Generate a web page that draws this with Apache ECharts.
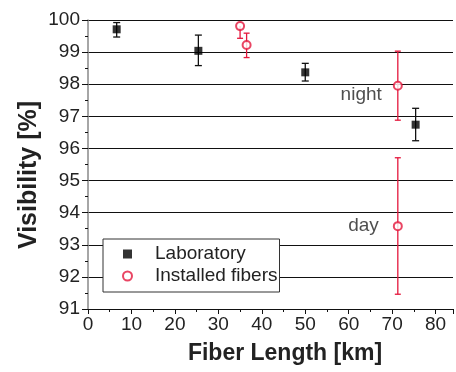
<!DOCTYPE html>
<html>
<head>
<meta charset="utf-8">
<script src="https://cdn.jsdelivr.net/npm/echarts@6/dist/echarts.min.js"></script>
<style>html,body{margin:0;padding:0;background:#fff}#c{width:456px;height:372px}</style>
</head>
<body>
<div id="c"></div>
<script>
// ---- data ----
const labX  = [6.6, 25.4, 50.0, 75.4];
const labY  = [99.71, 99.04, 98.37, 96.74];
const labLo = [99.47, 98.58, 98.10, 96.24];
const labHi = [99.92, 99.53, 98.65, 97.25];

const instX  = [35.0, 36.5, 71.3, 71.3];
const instY  = [99.81, 99.22, 97.95, 93.58];
const instLo = [99.43, 98.83, 96.88, 91.46];
const instHi = [99.81, 99.59, 99.03, 95.71];
const instNotes = ['', '', 'night', 'day'];

const xTicks = [0, 10, 20, 30, 40, 50, 60, 70, 80];
const yTicks = [91, 92, 93, 94, 95, 96, 97, 98, 99, 100];

const RED = '#e4173c';
const TXT = '#222';
const FONT = '"Liberation Sans", Arial, sans-serif';

function errRender(color, capW) {
  return function (params, api) {
    const x = api.value(0), lo = api.value(1), hi = api.value(2), y = api.value(3);
    const pLo = api.coord([x, lo]), pHi = api.coord([x, hi]);
    const st = { stroke: color, lineWidth: 1.3 };
    const ch = [
      { type: 'line', shape: { x1: pLo[0], y1: pLo[1], x2: pHi[0], y2: pHi[1] }, style: st },
      { type: 'line', shape: { x1: pLo[0] - capW / 2, y1: pLo[1], x2: pLo[0] + capW / 2, y2: pLo[1] }, style: st }
    ];
    if (hi > y) ch.push({ type: 'line', shape: { x1: pHi[0] - capW / 2, y1: pHi[1], x2: pHi[0] + capW / 2, y2: pHi[1] }, style: st });
    return { type: 'group', children: ch };
  };
}

const chart = echarts.init(document.getElementById('c'), null, { renderer: 'canvas' });
chart.setOption({
  animation: false,
  backgroundColor: '#fff',
  textStyle: { fontFamily: FONT },
  grid: { left: 88, top: 20, right: 0, bottom: 63, containLabel: false },
  xAxis: {
    type: 'value', min: 0, max: 84, interval: 10,
    axisLine: { show: true, onZero: false, lineStyle: { color: '#111', width: 1 } },
    axisTick: { show: true, inside: false, length: 5, lineStyle: { color: '#111' } },
    minorTick: { show: true, splitNumber: 2, length: 3, lineStyle: { color: '#111' } },
    splitLine: { show: false },
    axisLabel: {
      margin: 6, fontSize: 19, color: TXT, fontFamily: FONT,
      formatter: v => (xTicks.indexOf(v) >= 0 ? String(v) : '')
    }
  },
  yAxis: {
    type: 'value', min: 91, max: 100, interval: 1,
    axisLine: { show: true, onZero: false, lineStyle: { color: '#888', width: 1.5 } },
    axisTick: { show: true, inside: false, length: 6, lineStyle: { color: '#111' } },
    minorTick: { show: true, splitNumber: 2, length: 3, lineStyle: { color: '#111' } },
    splitLine: { show: true, lineStyle: { color: '#111', width: 1 } },
    axisLabel: {
      margin: 8, fontSize: 19, color: TXT, fontFamily: FONT,
      formatter: v => (yTicks.indexOf(v) >= 0 ? String(v) : '')
    }
  },
  legend: {
    orient: 'vertical', left: 103, top: 239,
    padding: [5, 2, 6, 19], itemGap: 2,
    itemWidth: 9, itemHeight: 9,
    borderColor: '#333', borderWidth: 1, backgroundColor: '#fff',
    textStyle: { fontSize: 19, color: TXT, fontFamily: FONT, lineHeight: 20, padding: [0, 0, 0, 18] },
    data: [
      { name: 'Laboratory', icon: 'rect' },
      { name: 'Installed fibers', icon: 'circle' }
    ]
  },
  graphic: [
    { type: 'text', x: 285, y: 354, style: { text: 'Fiber Length [km]', font: 'bold 23px ' + FONT, fill: TXT, textAlign: 'center', textVerticalAlign: 'middle' } },
    { type: 'text', x: 29, y: 175, rotation: Math.PI / 2, style: { text: 'Visibility [%]', font: 'bold 25px ' + FONT, fill: TXT, textAlign: 'center', textVerticalAlign: 'middle' } }
  ],
  series: [
    {
      type: 'custom', name: 'labErr', renderItem: errRender('#111', 7), z: 2,
      data: labX.map((x, i) => [x, labLo[i], labHi[i], labY[i]]),
      encode: { x: 0, y: [1, 2] }
    },
    {
      type: 'custom', name: 'instErr', renderItem: errRender(RED, 6), z: 2,
      data: instX.map((x, i) => [x, instLo[i], instHi[i], instY[i]]),
      encode: { x: 0, y: [1, 2] }
    },
    {
      type: 'scatter', name: 'Laboratory', symbol: 'rect', symbolSize: 8, z: 3,
      itemStyle: { color: '#000' },
      data: labX.map((x, i) => [x, labY[i]])
    },
    {
      type: 'scatter', name: 'Installed fibers', symbol: 'circle', symbolSize: 8, z: 3,
      itemStyle: { color: '#fff', borderColor: RED, borderWidth: 2 },
      label: {
        show: true, position: 'left', distance: 11, fontSize: 19, color: TXT, fontFamily: FONT,
        formatter: p => instNotes[p.dataIndex]
      },
      data: instX.map((x, i) => ({
        value: [x, instY[i]],
        label: instNotes[i] === 'night' ? { offset: [0, 9] } : (instNotes[i] === 'day' ? { distance: 14 } : {})
      }))
    }
  ]
});
</script>
</body>
</html>
